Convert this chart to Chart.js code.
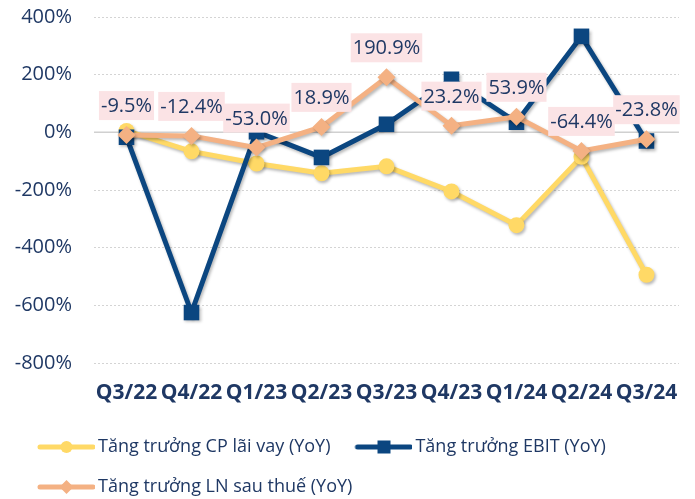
<!DOCTYPE html>
<html>
<head>
<meta charset="utf-8">
<script src="https://cdn.jsdelivr.net/npm/chart.js@4/dist/chart.umd.min.js"></script>
<style>
  html, body { margin: 0; padding: 0; background: #fff; }
  #wrap { width: 695px; height: 499px; position: relative; }
</style>
</head>
<body>
<div id="wrap"><canvas id="chart"></canvas></div>
<script>
// Dữ liệu (%)
const quarters = ['Q3/22', 'Q4/22', 'Q1/23', 'Q2/23', 'Q3/23', 'Q4/23', 'Q1/24', 'Q2/24', 'Q3/24'];
const cpLaiVay = [5, -66, -108, -142, -118, -205, -322, -85, -494];
const ebit = [-17, -625, 2, -87, 28, 184, 35, 333, -30];
const lnSauThue = [-9.5, -12.4, -53.0, 18.9, 190.9, 23.2, 53.9, -64.4, -23.8];
const yTicks = [-800, -600, -400, -200, 0, 200, 400];

const NAVY = '#1f3864';
const YELLOW = '#ffd966';
const BLUE = '#0b4680';
const ORANGE = '#f4b183';
const FONT = "'Open Sans', 'Noto Sans', sans-serif";

// Biểu tượng chú thích: đường + marker ở giữa (lề trái trong suốt để lệch sang phải)
function legendIcon(color, shape) {
    const c = document.createElement('canvas');
    c.width = 66; c.height = 16;
    const g = c.getContext('2d');
    g.strokeStyle = color;
    g.fillStyle = color;
    g.lineWidth = 5;
    g.lineCap = 'round';
    g.beginPath(); g.moveTo(11, 8); g.lineTo(64, 8); g.stroke();
    g.beginPath();
    const cx = 37.5;
    if (shape === 'circle') {
        g.arc(cx, 8, 6, 0, Math.PI * 2);
    } else if (shape === 'rect') {
        g.rect(cx - 6.5, 1.5, 13, 13);
    } else {
        g.moveTo(cx, 1); g.lineTo(cx + 7, 8); g.lineTo(cx, 15); g.lineTo(cx - 7, 8); g.closePath();
    }
    g.fill();
    return c;
}
const icons = [legendIcon(YELLOW, 'circle'), legendIcon(BLUE, 'rect'), legendIcon(ORANGE, 'diamond')];

// Bóng nhẹ cho các đường
const shadowPlugin = {
    id: 'lineShadow',
    beforeDatasetDraw(chart) {
        const ctx = chart.ctx;
        ctx.save();
        ctx.shadowColor = 'rgba(0,0,0,0.28)';
        ctx.shadowBlur = 3;
        ctx.shadowOffsetX = 1.5;
        ctx.shadowOffsetY = 2;
    },
    afterDatasetDraw(chart) {
        chart.ctx.restore();
    },
};

// Chú thích lùi vào trong một chút, trục y giữ nguyên
const legendShift = {
    id: 'legendShift',
    afterLayout(chart) {
        if (chart.legend) chart.legend.left += 13;
    },
};

// Đường 0% liền
const zeroLine = {
    id: 'zeroLine',
    beforeDatasetsDraw(chart) {
        const { ctx, chartArea, scales } = chart;
        const y = scales.y.getPixelForValue(0);
        ctx.save();
        ctx.strokeStyle = '#d0d0d0';
        ctx.lineWidth = 1.5;
        ctx.beginPath();
        ctx.moveTo(chartArea.left, y);
        ctx.lineTo(chartArea.right, y);
        ctx.stroke();
        ctx.restore();
    },
};

// Nhãn giá trị cho LN sau thuế
const valueLabels = {
    id: 'valueLabels',
    afterDatasetsDraw(chart) {
        const ctx = chart.ctx;
        const meta = chart.getDatasetMeta(2);
        ctx.save();
        ctx.font = '20px ' + FONT;
        ctx.textAlign = 'center';
        ctx.textBaseline = 'middle';
        meta.data.forEach((pt, i) => {
            const txt = lnSauThue[i].toFixed(1) + '%';
            const w = ctx.measureText(txt).width + 4;
            const cy = pt.y - 29.5;
            ctx.fillStyle = '#fbe3e5';
            ctx.fillRect(pt.x - w / 2, cy - 14.5, w, 29);
            ctx.fillStyle = NAVY;
            ctx.fillText(txt, pt.x, cy + 1);
        });
        ctx.restore();
    },
};

new Chart(document.getElementById('chart'), {
    type: 'line',
    data: {
        labels: quarters,
        datasets: [
            {
                label: 'Tăng trưởng CP lãi vay (YoY)',
                data: cpLaiVay,
                borderColor: YELLOW,
                backgroundColor: YELLOW,
                borderWidth: 5,
                pointStyle: 'circle',
                pointRadius: 8,
                pointBorderWidth: 0,
                order: 2,
            },
            {
                label: 'Tăng trưởng EBIT (YoY)',
                data: ebit,
                borderColor: BLUE,
                backgroundColor: BLUE,
                borderWidth: 5,
                pointStyle: 'rect',
                pointRadius: 11,
                pointBorderWidth: 0,
                order: 1,
            },
            {
                label: 'Tăng trưởng LN sau thuế (YoY)',
                data: lnSauThue,
                borderColor: ORANGE,
                backgroundColor: ORANGE,
                borderWidth: 5,
                pointStyle: 'rectRot',
                pointRadius: 9,
                pointBorderWidth: 0,
                order: 0,
            },
        ],
    },
    options: {
        responsive: true,
        maintainAspectRatio: false,
        animation: false,
        layout: { padding: { top: 0, right: 15, bottom: -7, left: 0 } },
        plugins: {
            tooltip: { enabled: false },
            legend: {
                position: 'bottom',
                align: 'start',
                labels: {
                    usePointStyle: true,
                    pointStyleWidth: 54,
                    padding: 22,
                    color: NAVY,
                    font: { family: FONT, size: 18 },
                    sort: (a, b) => a.datasetIndex - b.datasetIndex,
                    generateLabels: (chart) => {
                        const items = Chart.defaults.plugins.legend.labels.generateLabels(chart);
                        items.forEach((it) => { it.pointStyle = icons[it.datasetIndex]; });
                        return items;
                    },
                },
            },
        },
        scales: {
            x: {
                offset: true,
                grid: { display: false, drawTicks: false },
                border: { display: false },
                ticks: {
                    autoSkip: false,
                    maxRotation: 0,
                    padding: 17,
                    color: NAVY,
                    font: { family: FONT, size: 21, weight: 'bold' },
                },
                afterFit: (s) => { s.height = 53; },
            },
            y: {
                min: -800,
                max: 400,
                afterBuildTicks: (s) => { s.ticks = yTicks.map((v) => ({ value: v })); },
                grid: {
                    drawTicks: true,
                    tickLength: 17,
                    tickColor: 'rgba(0,0,0,0)',
                    color: (c) => (c.tick && c.tick.value === 0 ? 'rgba(0,0,0,0)' : '#d4d4d4'),
                    lineWidth: 1,
                },
                border: { display: false, dash: [2, 2] },
                ticks: {
                    padding: 5,
                    color: NAVY,
                    font: { family: FONT, size: 20 },
                    callback: (v) => v + '%',
                },
                afterFit: (s) => { s.width = 94; },
            },
        },
    },
    plugins: [shadowPlugin, legendShift, zeroLine, valueLabels],
});
</script>
</body>
</html>
